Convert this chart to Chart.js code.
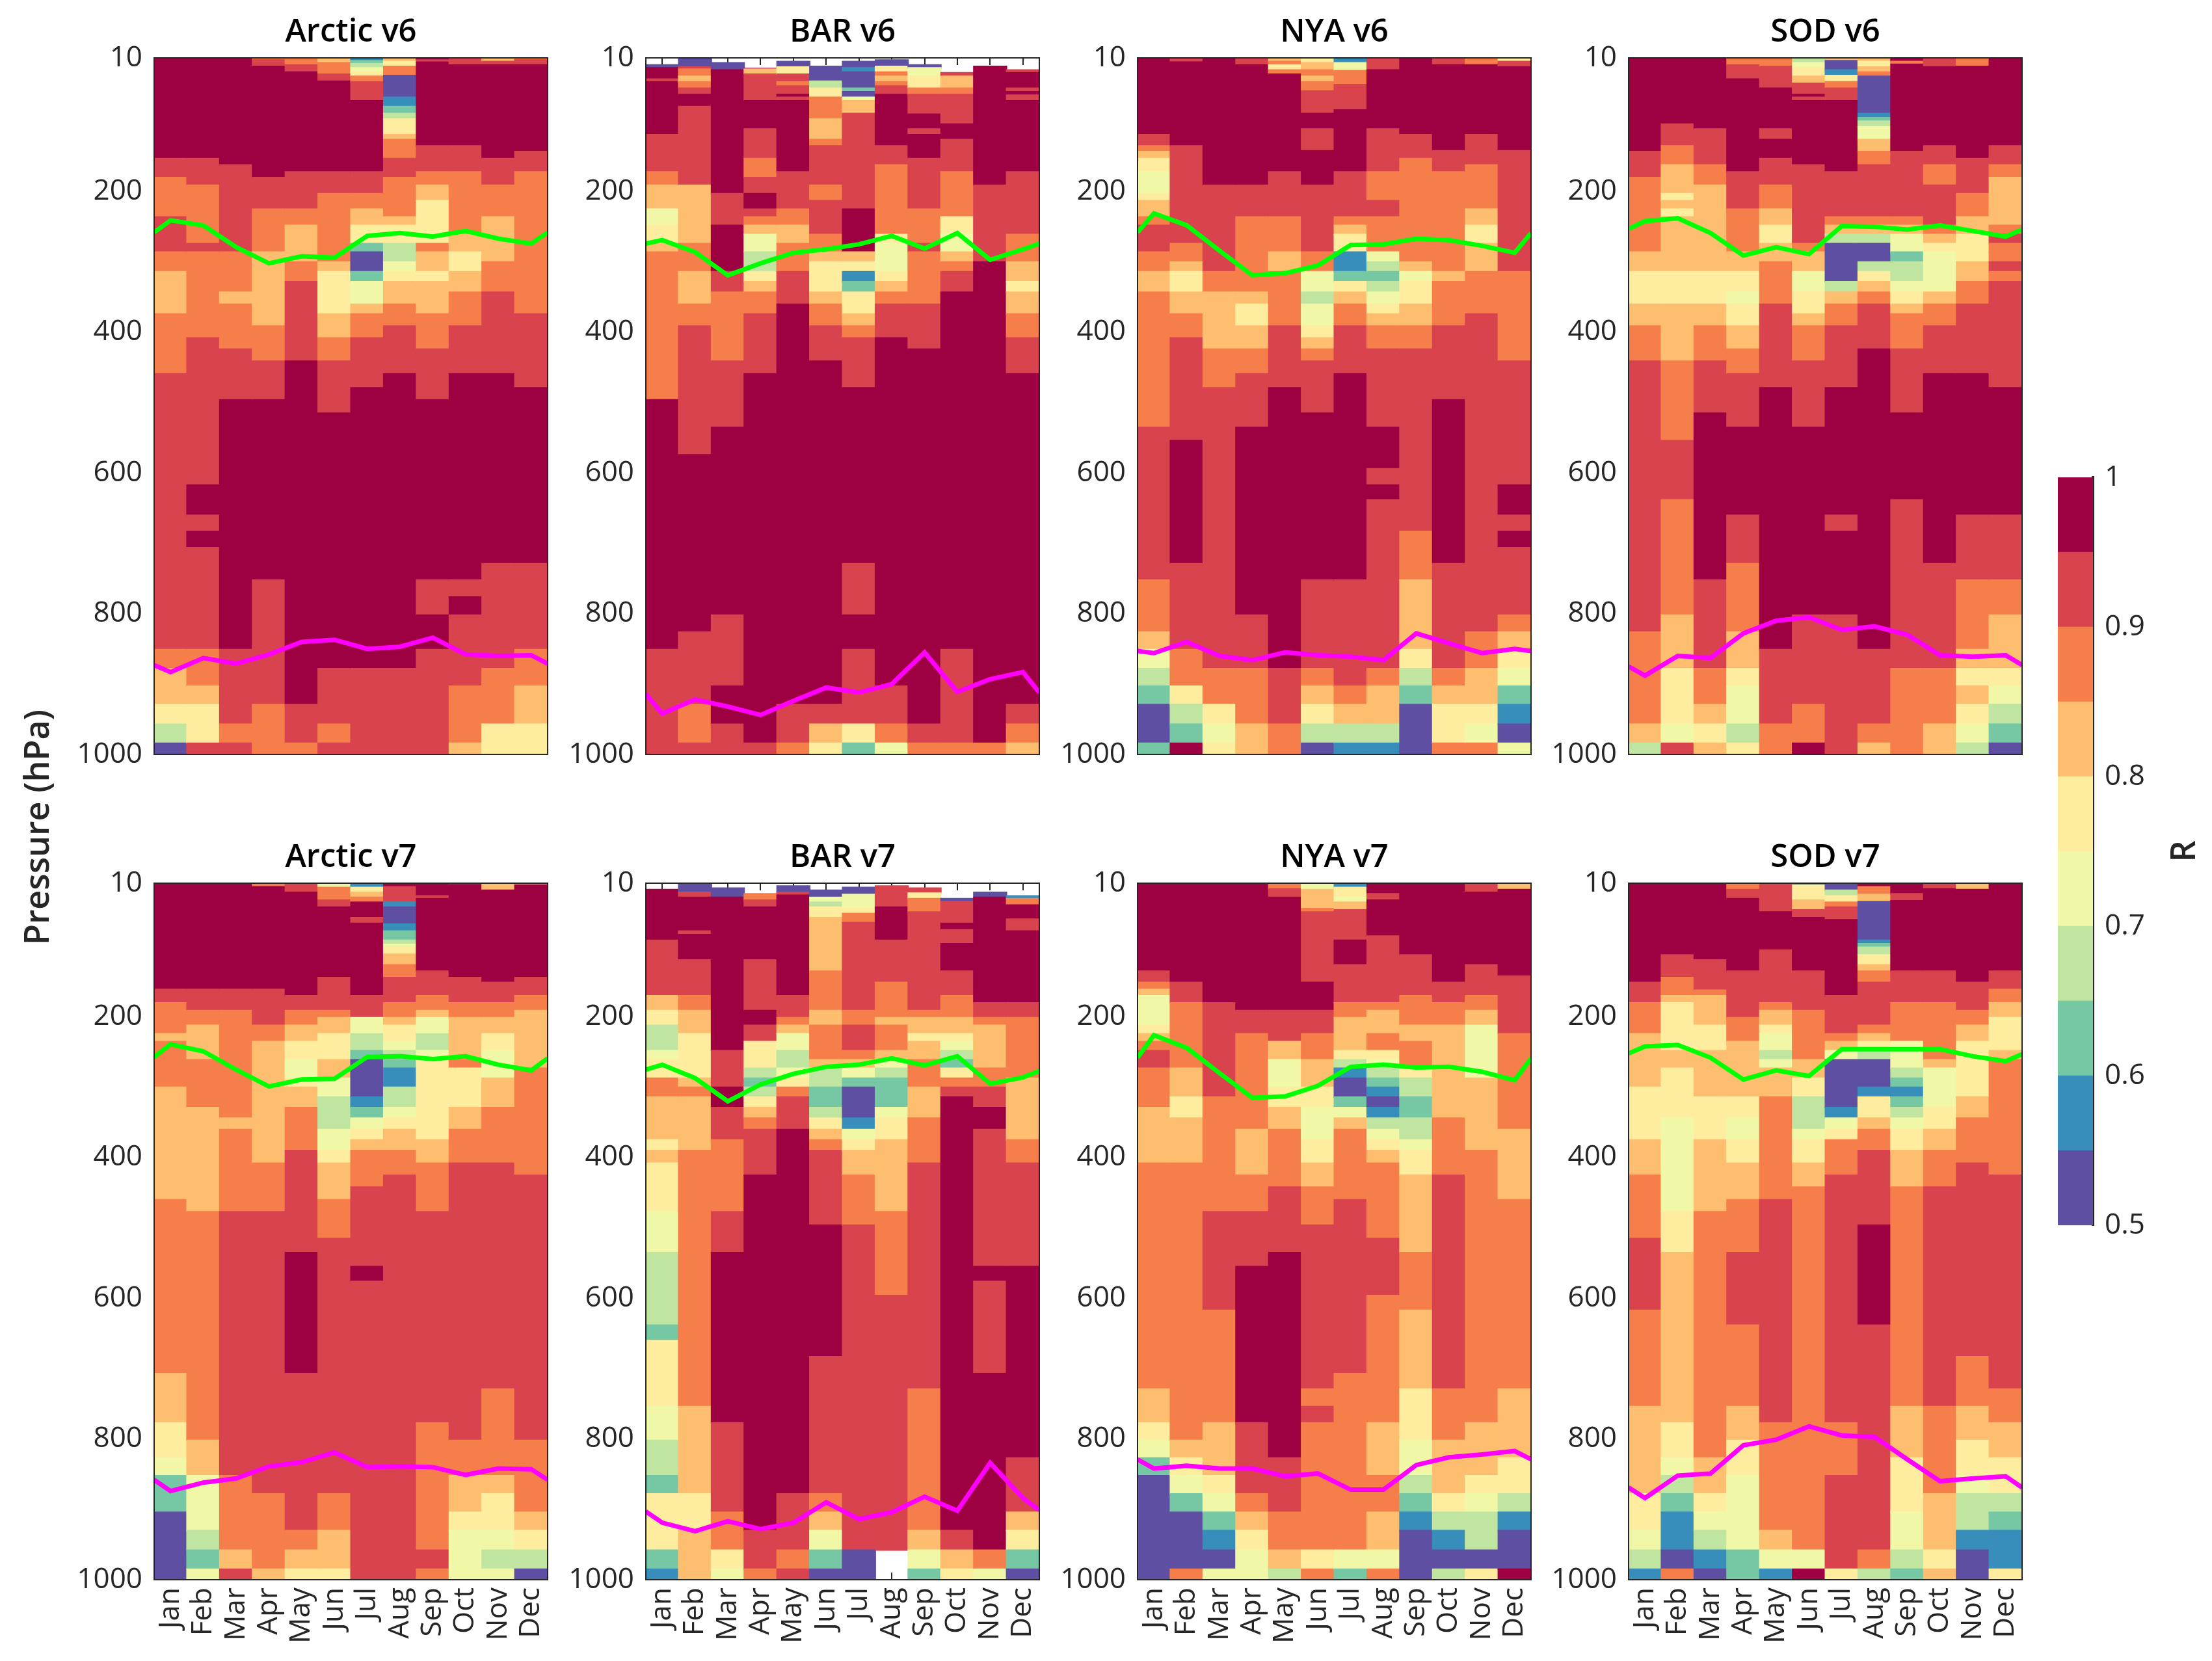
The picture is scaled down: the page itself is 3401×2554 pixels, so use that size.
<!DOCTYPE html>
<html>
<head>
<meta charset="utf-8">
<title>R by month and pressure</title>
<script src="https://cdn.jsdelivr.net/npm/chart.js@4"></script>
<style>
    html, body { margin: 0; padding: 0; background: #fff; }
    body { position: relative; width: 3401px; height: 2554px; overflow: hidden; font-family: "Open Sans", sans-serif; color: #262626; }
    canvas { position: absolute; }
    .sideLabel { position: absolute; font-size: 52px; font-weight: 600; white-space: nowrap; transform: translate(-50%, -50%) rotate(-90deg); }
</style>
</head>
<body>
<div class="sideLabel" style="left:54px;top:1272px">Pressure (hPa)</div>
<div class="sideLabel" style="left:3354px;top:1309px">R</div>
<canvas id="colorbar"></canvas>
<script>
const months = ['Jan', 'Feb', 'Mar', 'Apr', 'May', 'Jun', 'Jul', 'Aug', 'Sep', 'Oct', 'Nov', 'Dec'];
const pressureTicks = [10, 200, 400, 600, 800, 1000];
const rTicks = [0.5, 0.6, 0.7, 0.8, 0.9, 1];
const rEdges = [0.5, 0.55, 0.6, 0.65, 0.7, 0.75, 0.8, 0.85, 0.9, 0.95, 1];
const rColors = ['#5E4FA2', '#378EBB', '#76C8A5', '#BFE5A0', '#F0F8A8', '#FEEC9F', '#FDBE6F', '#F67E4B', '#D8434E', '#9E0142'];
const lineMonths = [0.5, 1, 2, 3, 4, 5, 6, 7, 8, 9, 10, 11, 12, 12.5];

// one row per month, read top down as: pressure at the bottom of the cell, R x 100 (0 = no data)
const arcticV6 = [
    [153,97,180,92,236,87,286,92,314,87,374,82,459,87,851,92,878,87,929,82,957,77,984,67,1000,52],
    [153,97,191,92,274,87,286,92,408,87,617,92,660,97,683,92,706,97,851,92,903,87,929,82,984,77,1000,92],
    [162,97,286,92,343,87,360,82,424,87,496,92,851,97,957,92,984,87,1000,92],
    [13,87,22,92,180,97,225,92,286,87,391,82,441,87,496,92,752,97,929,92,1000,87],
    [20,87,30,92,172,97,225,92,248,87,300,82,328,87,441,92,929,97,984,92,1000,87],
    [17,82,33,87,43,92,172,97,203,92,300,87,314,82,374,77,408,82,441,87,515,92,878,97,957,92,984,87,1000,92],
    [14,57,18,62,24,67,30,72,36,77,44,87,71,92,172,97,203,92,225,87,248,82,274,77,286,62,314,52,328,62,360,72,374,82,408,87,479,92,878,97,1000,92],
    [15,82,22,77,35,87,66,52,79,57,89,62,97,67,119,77,126,82,153,87,180,92,236,87,248,82,274,77,300,67,314,72,328,77,360,82,391,87,459,92,878,97,1000,92],
    [13,97,16,92,135,97,172,92,191,87,213,82,274,77,286,87,314,82,328,77,374,82,424,87,496,92,752,97,802,92,851,97,1000,92],
    [20,92,135,97,172,92,261,87,286,82,314,77,343,82,391,87,459,92,752,97,776,92,802,97,903,92,984,87,1000,82],
    [15,82,20,92,153,97,191,92,236,87,300,82,343,87,459,92,729,97,878,92,957,87,1000,77],
    [13,87,20,92,143,97,172,92,374,87,479,92,729,97,851,92,903,87,957,82,1000,77]
];
const arcticV6Tropopause = [258,241,248,279,302,292,294,263,259,264,256,267,274,258];
const arcticV6Boundary = [873,883,863,871,858,840,837,850,847,834,858,860,859,871];

const barV6 = [
    [20,0,24,52,40,97,44,92,119,97,172,92,191,87,225,82,248,72,274,77,286,82,496,87,851,97,1000,92],
    [23,52,26,92,36,87,44,82,53,87,62,92,79,97,191,92,274,82,314,87,360,82,391,87,574,92,826,97,929,92,984,87,1000,92],
    [17,0,27,52,203,97,248,92,314,97,343,92,441,87,535,92,802,97,903,92,957,97,1000,92],
    [25,0,26,97,33,82,71,92,111,97,153,92,180,87,203,92,225,97,236,92,248,87,261,82,286,72,314,67,328,77,343,82,374,87,459,92,984,97,1000,92],
    [15,0,23,52,33,77,44,92,50,87,62,92,66,97,71,92,172,97,225,92,248,87,274,82,314,87,360,92,929,97,984,92,1000,87],
    [22,0,43,52,53,67,66,77,97,87,126,82,135,87,191,92,213,87,261,92,286,87,300,82,343,77,360,82,391,87,441,92,929,97,957,92,984,82,1000,77],
    [15,0,24,52,30,57,53,52,58,62,66,52,71,72,89,82,225,92,286,97,300,82,314,77,328,57,343,62,374,77,391,82,408,87,479,92,729,97,802,92,851,97,957,92,984,77,1000,62],
    [13,0,22,52,30,77,36,87,44,82,50,87,62,92,135,97,162,92,261,87,274,77,314,72,328,77,343,82,360,87,408,92,903,97,957,92,984,87,1000,72],
    [20,0,24,52,36,72,53,77,62,87,90,92,111,97,119,92,153,97,225,92,274,87,286,92,360,87,424,92,957,97,984,92,1000,87],
    [31,0,36,92,53,82,62,87,104,92,126,97,172,92,236,87,261,77,286,72,300,82,314,87,343,92,851,97,984,92,1000,87],
    [22,0,191,97,300,92,984,97,1000,87],
    [27,0,31,92,53,97,58,92,63,97,71,92,172,97,261,92,300,87,328,82,343,77,374,82,408,87,459,92,929,97,957,92,984,87,1000,82]
];
const barV6Tropopause = [274,269,286,319,302,287,282,275,263,281,259,297,282,274];
const barV6Boundary = [914,942,922,932,944,924,905,912,900,855,911,893,883,912];

const nyaV6 = [
    [119,97,135,92,143,87,153,82,172,77,203,72,213,77,236,82,248,87,286,92,314,87,343,82,535,87,752,92,826,87,851,82,878,72,903,67,929,62,984,52,1000,62],
    [12,97,16,92,135,97,274,92,300,87,314,82,343,77,374,82,408,87,554,92,729,97,851,92,903,87,929,77,957,67,984,62,1000,97],
    [191,97,314,92,343,87,424,82,479,87,878,92,929,87,957,77,984,72,1000,77],
    [20,92,191,97,236,92,343,87,360,82,391,77,424,82,459,87,535,92,802,97,878,92,957,87,1000,82],
    [15,82,20,87,27,77,33,87,172,97,236,92,286,87,314,82,391,87,479,92,878,97,957,92,1000,87],
    [17,77,27,82,36,87,44,82,57,87,89,92,111,97,142,92,191,97,286,92,314,87,343,72,360,67,391,72,408,77,424,82,441,87,515,92,752,97,878,92,903,87,929,82,957,77,984,67,1000,52],
    [17,57,28,72,48,87,84,92,172,97,236,92,248,87,261,82,286,77,314,57,328,62,343,77,360,82,391,87,459,92,752,97,903,92,929,87,957,82,984,67,1000,57],
    [27,92,111,97,172,92,213,87,236,92,286,87,300,72,314,67,328,62,343,67,360,72,374,77,391,82,424,87,535,92,594,97,617,92,638,97,878,92,903,87,957,82,984,67,1000,57],
    [119,97,153,92,300,87,314,82,328,72,360,77,391,82,424,87,683,92,752,87,851,82,878,77,903,67,929,62,1000,52],
    [20,92,142,97,172,92,314,87,328,82,391,87,496,92,729,97,878,92,903,87,929,82,984,77,1000,87],
    [20,87,119,97,162,92,225,87,248,82,274,77,314,82,374,87,826,92,878,87,929,82,957,77,984,72,1000,87],
    [15,77,23,92,142,97,314,92,441,87,617,92,660,97,683,92,706,97,802,92,826,87,851,82,878,77,903,72,929,62,957,57,984,52,1000,72]
];
const nyaV6Tropopause = [258,231,248,284,319,316,305,276,275,267,269,277,287,259];
const nyaV6Boundary = [853,856,840,860,866,855,859,861,866,828,842,856,850,853];

const sodV6 = [
    [143,97,180,92,286,87,314,82,360,77,391,82,441,87,826,92,957,87,984,82,1000,67],
    [104,97,135,92,162,87,203,82,213,77,225,82,236,77,314,82,360,77,441,82,554,87,638,92,802,87,878,82,957,77,984,72,1000,92],
    [111,97,162,92,191,87,314,82,360,77,391,82,441,87,515,92,752,97,878,92,929,87,957,82,984,77,1000,82],
    [20,87,40,92,172,97,225,92,286,87,314,82,343,77,360,72,391,77,424,82,459,87,535,92,660,97,729,92,826,87,878,82,903,77,957,72,984,67,1000,77],
    [22,87,53,92,111,97,126,92,153,97,191,92,225,87,248,82,274,77,300,82,360,87,479,92,851,97,957,92,1000,87],
    [17,67,24,72,36,77,46,82,62,92,66,97,71,92,162,97,274,92,286,87,314,82,343,72,374,77,391,82,441,87,535,92,802,97,929,92,984,87,1000,97],
    [14,82,27,52,35,57,44,77,53,87,71,92,172,97,236,92,248,87,261,82,274,67,328,52,343,67,360,82,391,87,479,92,660,97,683,92,802,97,1000,92],
    [15,82,23,77,30,82,36,87,89,52,95,57,100,62,108,67,126,72,143,82,162,87,236,92,248,87,261,82,274,67,300,52,314,67,328,77,343,82,360,87,424,92,851,97,957,92,984,87,1000,82],
    [15,97,19,87,143,97,236,92,248,87,261,82,286,72,300,62,328,67,343,72,360,77,374,82,424,87,515,92,638,97,878,92,1000,87],
    [23,92,135,97,162,92,191,87,248,92,261,87,274,82,286,77,343,72,360,82,391,87,459,92,729,97,878,92,957,87,1000,82],
    [22,87,153,97,203,92,236,87,261,82,300,77,328,82,360,87,459,92,660,97,752,92,851,87,878,82,903,77,929,82,957,77,984,72,1000,67],
    [135,97,162,92,180,87,248,82,261,87,274,92,286,87,300,87,314,92,328,87,479,92,660,97,752,92,802,87,878,82,903,77,929,72,957,67,984,62,1000,52]
];
const sodV6Tropopause = [253,242,238,259,291,279,289,249,250,254,248,256,264,254];
const sodV6Boundary = [875,888,860,863,828,810,805,823,818,830,859,861,859,873];

const arcticV7 = [
    [161,97,180,92,224,87,235,82,300,87,460,82,707,87,777,82,827,77,852,72,904,62,1000,52],
    [161,97,191,92,212,87,261,82,329,87,477,82,802,87,852,82,930,72,958,67,985,62,1000,72],
    [161,97,191,92,344,87,360,82,477,87,852,92,958,87,985,82,1000,92],
    [15,87,161,97,212,92,235,87,408,82,477,87,878,92,985,87,1000,82],
    [23,92,170,97,191,92,212,87,235,82,261,77,287,72,300,77,329,82,390,87,535,92,707,97,930,92,958,87,985,82,1000,77],
    [16,72,34,87,44,92,144,97,191,92,201,87,224,82,261,77,287,82,314,72,360,67,390,72,408,77,460,82,515,87,878,92,930,87,985,82,1000,77],
    [16,57,23,77,30,82,37,87,59,97,67,92,170,97,201,92,224,72,248,67,261,62,314,52,329,57,344,62,360,72,375,77,390,82,442,87,555,92,576,97,1000,92],
    [15,97,37,92,44,57,68,52,78,57,91,62,97,67,101,72,111,77,126,82,144,87,180,92,201,87,212,82,235,77,248,72,261,67,273,62,300,57,329,67,344,72,360,77,390,82,425,87,1000,92],
    [28,97,32,92,135,97,170,92,191,87,201,82,224,72,248,67,261,72,375,77,408,82,477,87,777,92,958,87,985,92,1000,87],
    [12,87,144,97,180,92,201,87,261,82,273,87,329,77,360,82,408,87,802,92,852,87,904,82,930,77,1000,72],
    [20,82,151,97,180,92,201,87,224,82,248,77,287,72,329,82,408,87,729,92,852,87,878,82,930,77,958,72,985,67,1000,72],
    [13,87,144,97,170,92,191,87,273,82,425,87,802,92,904,87,930,82,958,77,985,67,1000,52]
];
const arcticV7Tropopause = [257,239,249,275,299,289,288,257,256,260,256,268,276,259];
const arcticV7Boundary = [858,874,862,856,839,833,819,840,839,840,851,842,843,858];

const barV7 = [
    [19,0,91,97,170,92,191,82,212,77,248,67,261,72,287,77,314,87,375,82,390,77,408,82,477,77,535,72,638,67,660,62,754,77,802,72,852,67,878,62,958,77,985,62,1000,57],
    [23,52,30,92,78,97,83,92,119,97,170,92,191,87,224,82,287,77,300,82,314,87,390,82,754,87,878,82,930,77,1000,82],
    [17,0,30,52,248,97,300,92,329,97,375,92,477,87,535,92,777,97,904,92,958,87,985,77,1000,72],
    [25,0,34,87,44,92,119,97,191,92,212,97,235,92,273,77,287,67,300,62,314,67,329,77,344,82,360,87,425,92,930,97,985,92,1000,87],
    [14,0,23,52,27,92,170,97,201,92,212,87,224,82,248,72,273,67,287,72,300,77,314,87,360,92,878,97,958,92,985,87,1000,92],
    [20,0,30,52,37,72,44,67,59,77,135,82,191,87,212,82,261,87,273,82,300,67,329,62,344,67,360,77,375,82,390,87,496,92,683,97,878,92,904,87,930,82,958,72,985,62,1000,52],
    [16,0,26,52,46,72,53,77,66,87,191,92,212,87,248,92,261,87,273,82,287,72,300,62,344,52,360,57,375,72,390,77,425,82,496,87,958,92,1000,52],
    [14,0,44,92,91,97,151,92,201,87,212,82,248,87,261,82,273,72,287,67,329,62,344,72,375,77,477,82,596,87,958,92,1000,0],
    [17,0,24,92,32,77,51,87,191,92,201,87,224,82,235,77,261,82,300,87,344,82,408,87,729,92,930,87,958,82,985,72,1000,62],
    [32,0,36,52,67,92,76,97,96,92,135,97,170,92,201,87,224,82,235,77,248,72,261,67,273,62,287,77,300,87,314,92,930,97,958,92,985,82,1000,77],
    [23,0,30,52,180,97,201,92,212,87,273,82,300,87,329,92,360,97,555,92,576,97,707,92,958,97,985,87,1000,72],
    [28,0,32,57,41,87,61,97,78,92,180,97,201,92,287,87,375,82,408,87,555,92,827,97,904,92,930,82,958,77,985,62,1000,52]
];
const barV7Tropopause = [275,268,287,320,296,281,271,268,259,269,256,295,286,277];
const barV7Boundary = [903,919,931,917,928,919,890,914,904,882,902,834,884,901];

const nyaV7 = [
    [135,97,151,92,161,87,170,82,212,72,224,77,235,82,248,87,273,92,329,87,408,82,729,87,777,82,802,77,827,72,852,62,1000,52],
    [151,97,180,92,273,87,314,82,344,77,408,82,802,87,827,82,852,77,878,72,904,62,985,52,1000,87],
    [180,97,314,92,477,87,617,92,777,87,852,82,878,77,904,72,930,62,958,57,985,52,1000,72],
    [191,97,224,92,360,87,425,82,477,87,555,92,777,97,878,92,904,87,930,82,958,77,1000,72],
    [18,87,30,92,191,97,235,92,261,82,300,72,329,77,360,82,442,87,535,92,827,97,904,92,958,87,985,82,1000,67],
    [19,72,46,82,51,87,151,92,191,97,224,92,261,87,300,82,329,77,375,72,408,77,442,82,496,87,729,92,754,87,777,92,958,87,985,77,1000,87],
    [16,57,30,77,37,72,48,82,91,92,126,97,180,92,201,87,248,82,261,77,273,67,287,57,314,52,329,62,344,72,360,82,460,87,707,92,958,87,985,72,1000,62],
    [25,97,34,92,85,97,180,92,191,87,224,82,248,87,261,77,273,72,287,67,300,62,314,57,329,52,344,57,360,67,375,72,390,77,408,82,515,87,596,92,777,87,852,82,904,87,958,82,985,72,1000,87],
    [112,97,170,92,212,87,235,82,273,87,287,77,314,67,344,62,375,67,390,72,425,77,535,82,617,87,729,82,802,77,852,72,878,67,904,62,930,57,1000,52],
    [151,97,180,92,212,87,344,82,425,87,729,92,802,87,878,82,904,77,930,67,958,57,985,52,1000,67],
    [23,92,126,97,170,92,191,87,212,82,287,72,390,82,777,87,852,82,878,77,904,72,958,67,985,52,1000,77],
    [19,82,142,97,224,92,360,87,460,82,729,87,827,82,878,77,904,67,930,57,985,52,1000,97]
];
const nyaV7Tropopause = [258,226,244,280,315,313,298,271,268,272,271,278,290,259];
const nyaV7Boundary = [829,842,838,842,842,853,849,872,872,837,826,822,817,829];

const sodV7 = [
    [151,97,180,92,224,87,300,82,375,77,425,82,515,87,617,92,754,87,878,82,930,77,958,72,985,67,1000,57],
    [112,97,144,92,170,87,180,82,248,77,273,82,344,77,477,72,535,77,777,82,827,77,852,72,878,67,904,62,958,57,985,52,1000,87],
    [119,97,162,92,170,87,212,82,248,77,314,82,375,77,477,82,827,87,878,82,904,77,930,72,958,67,985,57,1000,52],
    [19,87,32,92,135,97,201,92,235,87,314,82,344,77,375,72,408,77,460,82,535,87,638,92,754,87,802,82,852,77,958,72,1000,62],
    [51,92,105,97,180,92,191,87,212,82,224,77,248,72,261,67,273,72,314,82,460,87,777,92,930,87,958,82,985,72,1000,57],
    [13,57,34,77,48,82,59,92,135,97,191,92,261,87,287,82,314,77,360,67,375,72,408,77,442,82,958,87,985,72,1000,97],
    [20,52,28,67,37,77,44,87,62,92,170,97,224,92,235,87,248,82,261,72,329,52,344,57,360,72,375,77,425,87,777,92,852,87,985,92,1000,77],
    [15,97,26,87,36,82,91,52,96,57,101,62,112,67,126,77,135,82,151,87,212,92,224,87,235,82,248,77,261,67,300,52,314,57,344,77,360,82,390,87,496,92,638,97,958,92,985,87,1000,67],
    [25,97,35,92,135,97,180,92,235,87,273,72,287,67,300,62,314,57,329,62,344,67,360,72,390,77,442,82,754,87,827,82,904,77,958,72,985,67,1000,62],
    [18,92,135,97,180,92,261,87,273,82,329,72,360,77,390,82,442,87,754,92,878,87,958,82,985,77,1000,82],
    [19,82,151,97,191,92,212,87,235,82,314,77,344,82,408,87,683,92,754,87,802,82,852,77,878,72,930,67,958,57,1000,52],
    [135,97,161,92,180,87,201,82,248,77,261,82,425,87,729,92,777,87,827,82,878,77,904,67,930,62,985,57,1000,77]
];
const sodV7Tropopause = [252,242,240,258,289,276,284,246,246,246,246,256,263,253];
const sodV7Boundary = [869,884,852,849,809,801,782,795,797,829,860,856,853,869];

const panels = [
    { title: 'Arctic v6', cells: arcticV6, green: arcticV6Tropopause, magenta: arcticV6Boundary, col: 0, row: 0 },
    { title: 'BAR v6', cells: barV6, green: barV6Tropopause, magenta: barV6Boundary, col: 1, row: 0 },
    { title: 'NYA v6', cells: nyaV6, green: nyaV6Tropopause, magenta: nyaV6Boundary, col: 2, row: 0 },
    { title: 'SOD v6', cells: sodV6, green: sodV6Tropopause, magenta: sodV6Boundary, col: 3, row: 0 },
    { title: 'Arctic v7', cells: arcticV7, green: arcticV7Tropopause, magenta: arcticV7Boundary, col: 0, row: 1 },
    { title: 'BAR v7', cells: barV7, green: barV7Tropopause, magenta: barV7Boundary, col: 1, row: 1 },
    { title: 'NYA v7', cells: nyaV7, green: nyaV7Tropopause, magenta: nyaV7Boundary, col: 2, row: 1 },
    { title: 'SOD v7', cells: sodV7, green: sodV7Tropopause, magenta: sodV7Boundary, col: 3, row: 1 }
];

const INK = '#262626';
const FONT = '"Open Sans", sans-serif';
const TICK_SIZE = 44;
const TITLE_SIZE = 49;
const columnLefts = [237, 993, 1749, 2504];
const rowTops = [89, 1358];
const PLOT_W = 605, PLOT_H = 1071;
const AXIS_W = 140, TITLE_H = 63, BELOW_H = 120, RIGHT_PAD = 4;

function rColor(r) {
    const bin = Math.min(rColors.length - 1, Math.floor((r - 0.5) / 0.05));
    return rColors[bin];
}

// turn "bottom pressure, R" runs into floating bars, one per cell
function buildBars(cells) {
    const bars = [];
    cells.forEach((col, m) => {
        let top = 10;
        for (let i = 0; i < col.length; i += 2) {
            if (col[i + 1] > 0) bars.push({ x: m + 1, y: [top, col[i]], r: col[i + 1] / 100 });
            top = col[i];
        }
    });
    return bars;
}

// inward ticks sit under the cells and only show where data is missing; the box goes on top
const frame = {
    id: 'frame',
    beforeDatasetsDraw(chart) {
        const { ctx, chartArea: a, scales: { x } } = chart;
        ctx.save();
        ctx.strokeStyle = INK;
        ctx.lineWidth = 2;
        x.ticks.forEach(t => {
            const px = Math.round(x.getPixelForValue(t.value));
            ctx.beginPath();
            ctx.moveTo(px, a.top); ctx.lineTo(px, a.top + 11);
            ctx.moveTo(px, a.bottom); ctx.lineTo(px, a.bottom - 11);
            ctx.stroke();
        });
        ctx.restore();
    },
    afterDatasetsDraw(chart) {
        const { ctx, chartArea: a } = chart;
        ctx.save();
        ctx.strokeStyle = INK;
        ctx.lineWidth = 2;
        ctx.strokeRect(a.left, a.top, a.right - a.left, a.bottom - a.top);
        ctx.restore();
    }
};

function pinPadding(scale) {
    scale.paddingLeft = 0;
    scale.paddingRight = 0;
    scale.paddingTop = 0;
    scale.paddingBottom = 0;
}

function drawPanel(p) {
    const canvas = document.createElement('canvas');
    canvas.width = AXIS_W + PLOT_W + RIGHT_PAD;
    canvas.height = TITLE_H + PLOT_H + BELOW_H;
    canvas.style.left = (columnLefts[p.col] - AXIS_W) + 'px';
    canvas.style.top = (rowTops[p.row] - TITLE_H) + 'px';
    document.body.appendChild(canvas);

    const bars = buildBars(p.cells);
    new Chart(canvas, {
        type: 'bar',
        data: {
            datasets: [
                {
                    type: 'line',
                    data: lineMonths.map((m, i) => ({ x: m, y: p.magenta[i] })),
                    borderColor: '#FF00FF',
                    borderWidth: 7,
                    pointRadius: 0,
                    tension: 0
                },
                {
                    type: 'line',
                    data: lineMonths.map((m, i) => ({ x: m, y: p.green[i] })),
                    borderColor: '#00FF00',
                    borderWidth: 7,
                    pointRadius: 0,
                    tension: 0
                },
                {
                    type: 'bar',
                    data: bars,
                    backgroundColor: bars.map(b => rColor(b.r)),
                    borderWidth: 0,
                    inflateAmount: 1,
                    barPercentage: 1,
                    categoryPercentage: 1
                }
            ]
        },
        options: {
            responsive: false,
            animation: false,
            layout: { padding: { right: RIGHT_PAD } },
            plugins: {
                legend: { display: false },
                tooltip: { enabled: false },
                title: {
                    display: true,
                    text: p.title,
                    fullSize: false,
                    color: '#000',
                    font: { family: FONT, size: TITLE_SIZE, weight: '600', lineHeight: 1 },
                    padding: { top: 0, bottom: TITLE_H - TITLE_SIZE }
                }
            },
            scales: {
                x: {
                    type: 'linear',
                    offset: false,
                    min: 0.5,
                    max: 12.5,
                    grid: { display: false, drawTicks: false, offset: false },
                    border: { display: false },
                    afterBuildTicks: s => { s.ticks = months.map((m, i) => ({ value: i + 1 })); },
                    afterFit: s => { pinPadding(s); s.height = BELOW_H; },
                    ticks: {
                        display: p.row === 1,
                        autoSkip: false,
                        maxRotation: 90,
                        minRotation: 90,
                        padding: 12,
                        color: INK,
                        font: { family: FONT, size: TICK_SIZE },
                        callback: v => months[v - 1]
                    }
                },
                y: {
                    type: 'linear',
                    reverse: true,
                    min: 10,
                    max: 1000,
                    grid: { display: false, drawTicks: false },
                    border: { display: false },
                    afterBuildTicks: s => { s.ticks = pressureTicks.map(v => ({ value: v })); },
                    afterFit: s => { pinPadding(s); s.width = AXIS_W; },
                    ticks: {
                        padding: 18,
                        color: INK,
                        font: { family: FONT, size: TICK_SIZE },
                        callback: v => String(v)
                    }
                }
            }
        },
        plugins: [frame]
    });
}

function drawColorbar() {
    const canvas = document.getElementById('colorbar');
    canvas.width = 54 + 130;
    canvas.height = 1150 + 60;
    canvas.style.left = '3164px';
    canvas.style.top = (734 - 30) + 'px';
    const bins = rColors.map((c, i) => [rEdges[i], rEdges[i + 1]]);
    new Chart(canvas, {
        type: 'bar',
        data: {
            labels: ['R'],
            datasets: bins.map((b, i) => ({
                data: [b],
                backgroundColor: rColors[i],
                borderWidth: 0,
                barPercentage: 1,
                categoryPercentage: 1
            }))
        },
        options: {
            responsive: false,
            animation: false,
            layout: { padding: { top: 30, bottom: 30 } },
            plugins: { legend: { display: false }, tooltip: { enabled: false } },
            scales: {
                x: {
                    stacked: true,
                    display: false
                },
                y: {
                    position: 'right',
                    min: 0.5,
                    max: 1,
                    grid: { display: false, drawTicks: false },
                    border: { display: true, color: INK, width: 4 },
                    afterBuildTicks: s => { s.ticks = rTicks.map(v => ({ value: v })); },
                    afterFit: s => { pinPadding(s); s.width = 130; },
                    ticks: {
                        padding: 18,
                        color: INK,
                        font: { family: FONT, size: TICK_SIZE },
                        callback: v => String(v)
                    }
                }
            }
        }
    });
}

panels.forEach(drawPanel);
drawColorbar();
</script>
</body>
</html>
